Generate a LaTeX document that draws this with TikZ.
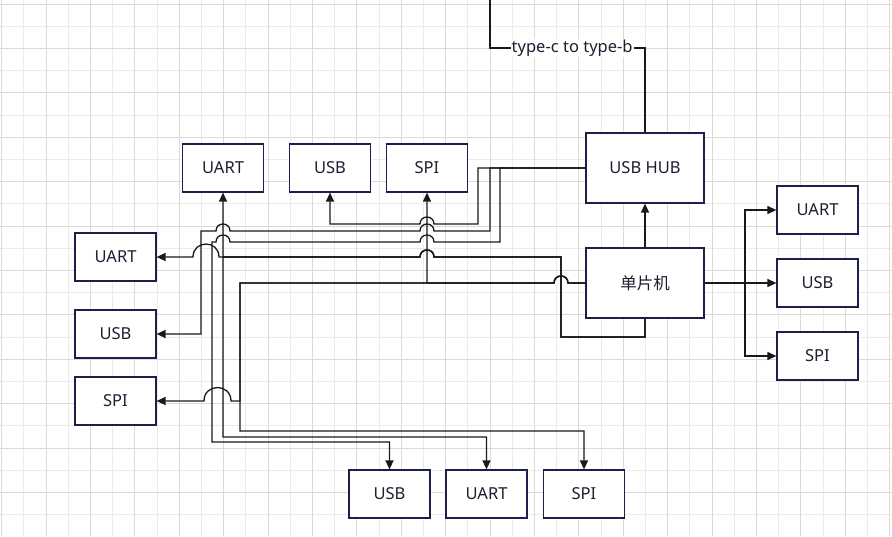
\documentclass[tikz,border=0pt]{standalone}
\usepackage{fontspec}
\setmainfont{Noto Sans}
\newfontfamily\cjk{Noto Sans CJK SC}
\usetikzlibrary{arrows.meta}
\definecolor{boxline}{HTML}{1B1F4B}
\definecolor{boxtext}{HTML}{1E1E30}
\definecolor{gridmajor}{HTML}{DADADA}
\definecolor{gridminor}{HTML}{EBEBEB}
\newcommand{\hopl}[3]{-- ({#1+#3},#2) .. controls ({#1+#3},{#2-1.33*#3}) and ({#1-#3},{#2-1.33*#3}) .. ({#1-#3},#2)}

\begin{document}
\begin{tikzpicture}[x=1pt,y=-1pt,
	box/.style={rectangle, draw=boxline, line width=1.2pt, fill=white, minimum width=81pt, minimum height=48pt, inner sep=0pt, text=boxtext, font=\fontsize{16.5}{19}\selectfont},
	bigbox/.style={box, minimum width=118pt, minimum height=70pt},
	wire/.style={draw=black!90, line width=1.3pt},
	arr/.style={wire, -{Triangle[length=9pt,width=8pt]}},
	lbl/.style={fill=white, inner sep=1pt, text=boxtext, font=\fontsize{16.5}{19}\selectfont}]
		\useasboundingbox (0,0) rectangle (892,536);
		\foreach \i in {1,3,...,39}
			\draw [line width=1pt, draw=gridminor] ({1.7+22.2*\i},0) -- ({1.7+22.2*\i},536);
		\foreach \i in {1,3,...,23}
			\draw [line width=1pt, draw=gridminor] (0,{4+22.2*\i}) -- (892,{4+22.2*\i});
		\foreach \i in {0,2,...,40}
			\draw [line width=1pt, draw=gridmajor] ({1.7+22.2*\i},0) -- ({1.7+22.2*\i},536);
		\foreach \i in {0,2,...,22}
			\draw [line width=1pt, draw=gridmajor] (0,{4+22.2*\i}) -- (892,{4+22.2*\i});

		\draw (645,168) node [bigbox] (hub) {USB HUB};
		\draw (645,283) node [bigbox] (mcu) {\cjk 单片机};
		\draw (223,168) node [box] (uartt) {UART};
		\draw (330,168) node [box] (usbt) {USB};
		\draw (427,168) node [box] (spit) {SPI};
		\draw (115.5,257) node [box] (uartl) {UART};
		\draw (115.5,334) node [box] (usbl) {USB};
		\draw (115.5,401) node [box] (spil) {SPI};
		\draw (389.5,494) node [box] (usbb) {USB};
		\draw (486.5,494) node [box] (uartb) {UART};
		\draw (584,494) node [box] (spib) {SPI};
		\draw (817.5,210) node [box] (uartr) {UART};
		\draw (817.5,283) node [box] (usbr) {USB};
		\draw (817.5,356) node [box] (spir) {SPI};
		\coordinate (pc) at (490,0);

		\draw [wire] (pc) -- (490,48) -- node [lbl, pos=0.53] {type-c to type-b} (645,48) -- (hub.north);
		\draw [arr] (mcu.north) -- (hub.south);

		\draw [arr] (hub.west) -- (478,168) -- (478,224) \hopl{427}{224}{7} -| (usbt.south);
		\draw [arr] (hub.west) -- (490,168) -- (490,231) \hopl{427}{231}{7} \hopl{223}{231}{7} -- (201,231) |- (usbl.east);
		\draw [arr] (hub.west) -- (500,168) -- (500,242) \hopl{427}{242}{7} \hopl{223}{242}{7} -- (212,242) -- (212,442) -| (usbb.north);

		\draw [arr] (mcu.south) |- (561,337) -- (561,257) \hopl{427}{257}{7} -- (223,257) -- (uartt.south);
		\draw [arr] (mcu.south) |- (561,337) -- (561,257) \hopl{427}{257}{7} \hopl{206}{257}{13} -- (uartl.east);
		\draw [arr] (mcu.south) |- (561,337) -- (561,257) \hopl{427}{257}{7} -- (223,257) -- (223,437) -| (uartb.north);

		\draw [arr] (mcu.west) \hopl{561}{283}{7} -| (spit.south);
		\draw [arr] (mcu.west) \hopl{561}{283}{7} -- (240,283) -- (240,401) \hopl{217.5}{401}{13.5} -- (spil.east);
		\draw [arr] (mcu.west) \hopl{561}{283}{7} -- (240,283) -- (240,431) -| (spib.north);

		\draw [arr] (mcu.east) -- (745,283) |- (uartr.west);
		\draw [arr] (mcu.east) -- (usbr.west);
		\draw [arr] (mcu.east) -- (745,283) |- (spir.west);
	\end{tikzpicture}
\end{document}
